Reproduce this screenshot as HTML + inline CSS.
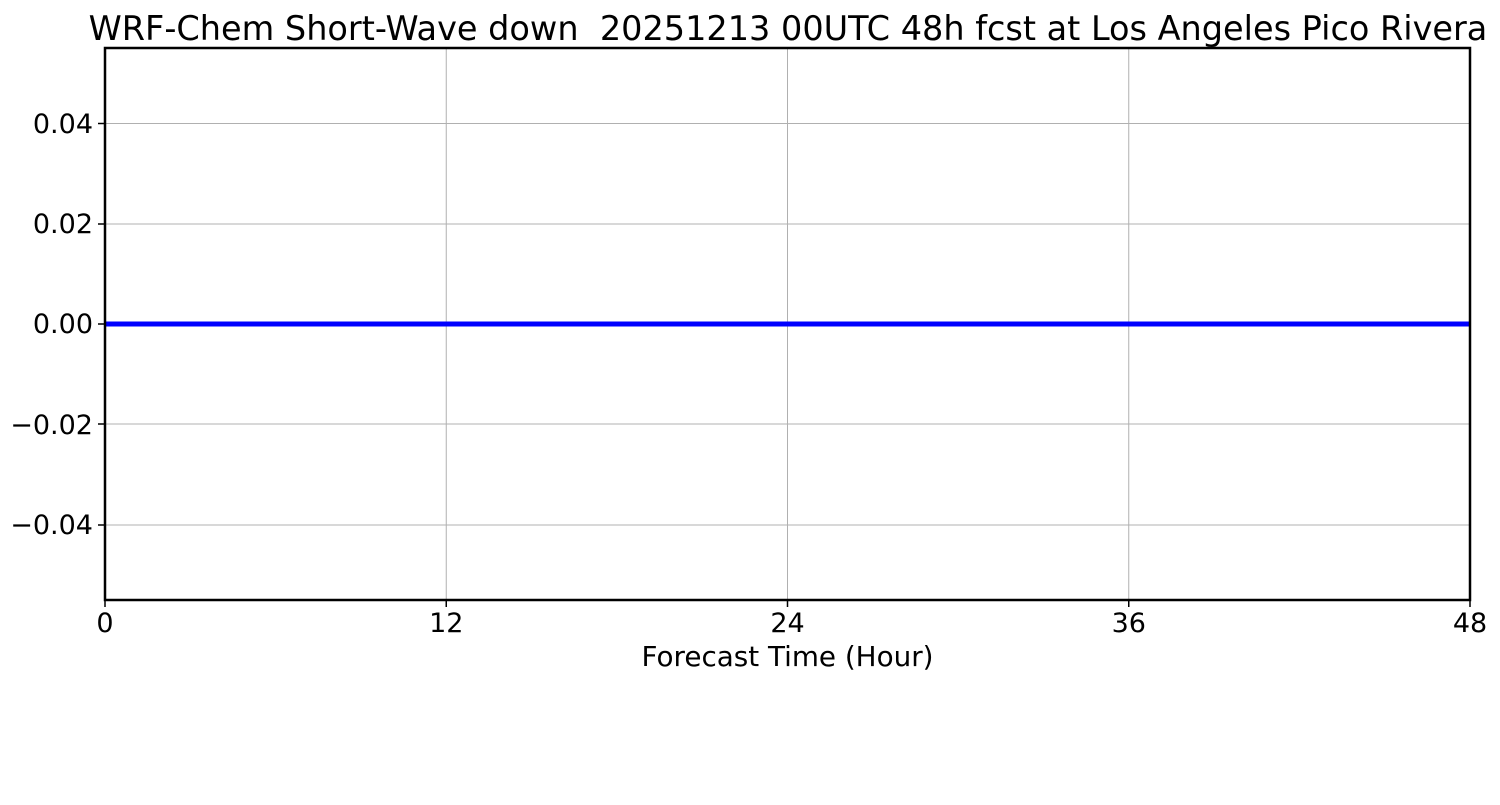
<!DOCTYPE html>
<html><head><meta charset="utf-8"><style>html,body{margin:0;padding:0;background:#fff}</style></head>
<body>
<svg width="1500" height="800" xmlns="http://www.w3.org/2000/svg" font-family="DejaVu Sans, Liberation Sans, sans-serif">
<rect width="1500" height="800" fill="#fff"/>
<g stroke="#b0b0b0" stroke-width="1">
<line x1="446.25" y1="48" x2="446.25" y2="600"/>
<line x1="787.5" y1="48" x2="787.5" y2="600"/>
<line x1="1128.75" y1="48" x2="1128.75" y2="600"/>
<line x1="105" y1="123.5" x2="1470" y2="123.5"/>
<line x1="105" y1="224" x2="1470" y2="224"/>
<line x1="105" y1="324" x2="1470" y2="324"/>
<line x1="105" y1="424" x2="1470" y2="424"/>
<line x1="105" y1="525" x2="1470" y2="525"/>
</g>
<line x1="105" y1="324" x2="1470" y2="324" stroke="#0000ff" stroke-width="5"/>
<rect x="105" y="48" width="1365" height="552" fill="none" stroke="#000" stroke-width="2.5"/>
<g stroke="#000" stroke-width="1.5">
<line x1="98" y1="123.5" x2="105" y2="123.5"/><line x1="98" y1="224" x2="105" y2="224"/><line x1="98" y1="324" x2="105" y2="324"/><line x1="98" y1="424" x2="105" y2="424"/><line x1="98" y1="525" x2="105" y2="525"/>
<line x1="105" y1="600" x2="105" y2="607"/><line x1="446.25" y1="600" x2="446.25" y2="607"/><line x1="787.5" y1="600" x2="787.5" y2="607"/><line x1="1128.75" y1="600" x2="1128.75" y2="607"/><line x1="1470" y1="600" x2="1470" y2="607"/>
</g>
<g font-size="27" fill="#000" text-anchor="end">
<text x="93" y="133">0.04</text><text x="93" y="233">0.02</text><text x="93" y="333">0.00</text><text x="93" y="434">−0.02</text><text x="93" y="534">−0.04</text>
</g>
<g font-size="27" fill="#000" text-anchor="middle">
<text x="105" y="632">0</text><text x="446.25" y="632">12</text><text x="787.5" y="632">24</text><text x="1128.75" y="632">36</text><text x="1470" y="632">48</text>
<text x="787.5" y="666" font-size="27.8">Forecast Time (Hour)</text>
<text x="788" y="40" font-size="33.5">WRF-Chem Short-Wave down&#160; 20251213 00UTC 48h fcst at Los Angeles Pico Rivera</text>
</g>
<text transform="translate(-4,250) rotate(-90)" font-size="27" text-anchor="middle">(W/m²)</text>
</svg>
</body></html>
